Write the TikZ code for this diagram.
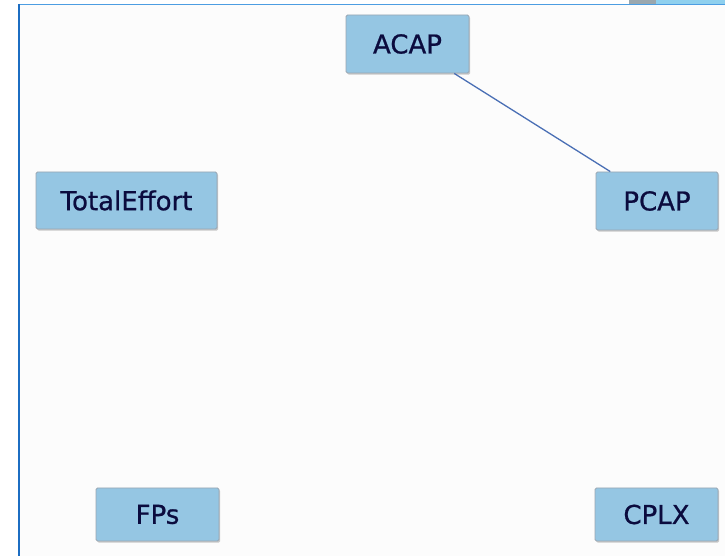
\documentclass[tikz,border=0pt]{standalone}
\usepackage{fontspec}
\setmainfont{DejaVu Sans}
\newfontfamily\labelfont[FakeBold=0.8]{DejaVu Sans}
\usetikzlibrary{shadows}
\definecolor{boxfill}{HTML}{95C6E3}
\definecolor{boxedge}{HTML}{9AA6B2}
\definecolor{boxtext}{HTML}{0B0B3E}
\definecolor{linkcol}{HTML}{4A6FB5}
\definecolor{paper}{HTML}{FCFCFC}
\definecolor{frametop}{HTML}{4C9DE2}
\definecolor{frameleft}{HTML}{1C6DC2}
\definecolor{tabgrey}{HTML}{9AA7AE}
\definecolor{tabblue}{HTML}{8FD0EE}
\tikzset{
  varbox/.style={draw=boxedge, line width=0.9pt, fill=boxfill, rounded corners=1.5pt,
    text=boxtext, font=\labelfont\fontsize{26}{30}\selectfont, inner sep=0pt,
    drop shadow={shadow xshift=1.2pt, shadow yshift=-1.6pt, fill=black!35, opacity=0.6}},
  link/.style={draw=linkcol, line width=1.3pt}
}
\begin{document}
\begin{tikzpicture}[x=1pt,y=1pt]
  % page and frame
  \fill[white] (0,0) rectangle (725,556);
  \useasboundingbox (0,0) rectangle (725,556);
  \fill[paper] (19,0) rectangle (725,551.5);
  \fill[tabgrey] (629,551.5) rectangle (656,556);
  \fill[tabblue] (656,551.5) rectangle (725,556);
  \draw[frametop, line width=1.6pt] (19,551.3) -- (725,551.3);
  \draw[frameleft, line width=1.6pt] (19,552) -- (19,0);

  % variables
  \node[varbox, minimum width=123pt, minimum height=58pt] (ACAP) at (407.5,512) {ACAP};
  \node[varbox, minimum width=181pt, minimum height=57pt] (TE) at (126.5,355.5) {TotalEffort};
  \node[varbox, minimum width=122pt, minimum height=58pt] (PCAP) at (657,355) {PCAP};
  \node[varbox, minimum width=123pt, minimum height=53pt] (FPs) at (157.5,41.5) {FPs};
  \node[varbox, minimum width=123pt, minimum height=53pt] (CPLX) at (656.5,41.5) {CPLX};

  % dependency
  \draw[link] (ACAP) -- (PCAP);
\end{tikzpicture}
\end{document}
